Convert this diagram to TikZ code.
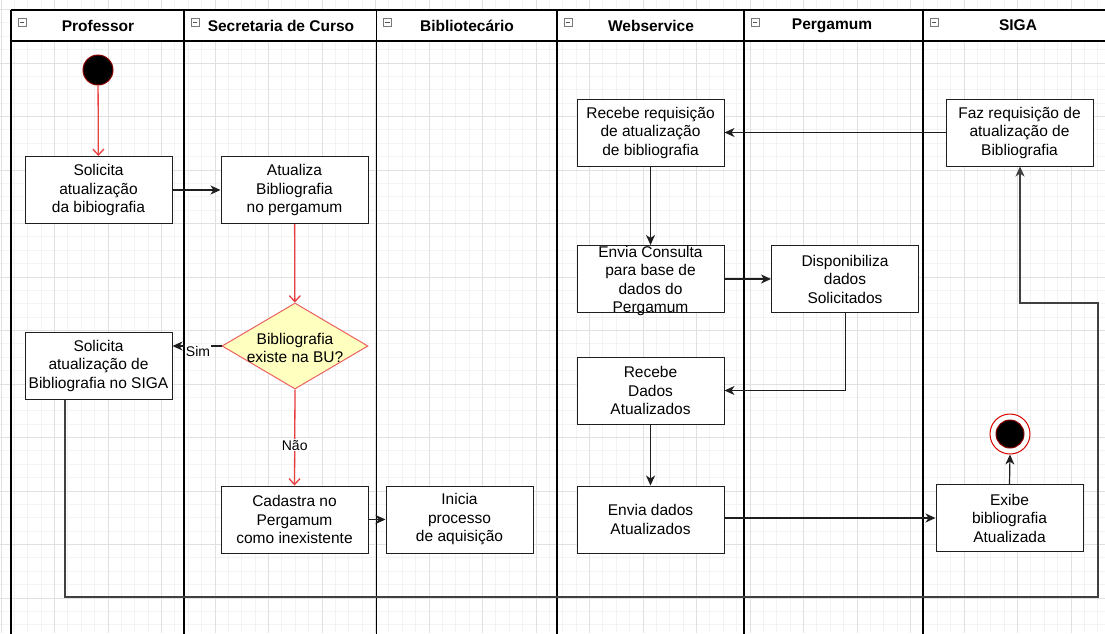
\documentclass[tikz,border=0pt]{standalone}
\usepackage{fontspec}
\setmainfont{Liberation Sans}
\usetikzlibrary{shapes.geometric,arrows.meta}
\definecolor{gridmaj}{RGB}{224,224,224}
\definecolor{gridmin}{RGB}{243,243,243}
\definecolor{redline}{RGB}{234,64,64}
\definecolor{decborder}{RGB}{234,96,96}
\definecolor{decfill}{RGB}{255,255,192}
\definecolor{darkred}{RGB}{140,0,0}
\definecolor{conn}{RGB}{30,30,30}
\definecolor{icongray}{RGB}{120,120,120}
\begin{document}
\begin{tikzpicture}[x=1pt,y=-1pt,
  txt/.style={font=\fontsize{15.5}{18.5}\selectfont, align=center, inner sep=0pt},
  act/.style={txt, draw=conn, line width=1pt, fill=white, minimum width=147pt, minimum height=67pt},
  hdr/.style={font=\fontsize{15.5}{18.5}\selectfont\bfseries, inner sep=0pt},
  lbl/.style={font=\fontsize{14}{16}\selectfont, fill=white, inner sep=1pt},
  dec/.style={diamond, draw=decborder, fill=decfill, line width=1pt, minimum width=146pt, minimum height=86pt, aspect=1.7, inner sep=0pt},
  lane/.style={draw=black, line width=1.1pt},
  blk/.style={draw=conn, line width=1.2pt, -{Stealth[length=10pt,width=9pt,inset=3pt]}},
  redarr/.style={draw=redline, line width=1.3pt, -{Straight Barb[length=6pt,width=11pt]}},
  loopline/.style={draw=conn!85!white, line width=1.4pt, -{Stealth[length=10pt,width=9pt,inset=3pt]}}
]
\useasboundingbox (0,0) rectangle (1105,633);
% grid
\begin{scope}
\clip (0,0) rectangle (1105,633);
\foreach \i in {0,...,83} {\draw[gridmin, line width=1pt] ({1+13.375*\i},0) -- ++(0,633);}
\foreach \i in {0,...,48} {\draw[gridmin, line width=1pt] (0,{-3.875+13.375*\i}) -- ++(1105,0);}
\foreach \i in {0,...,20} {\draw[gridmaj, line width=1pt] ({1+53.5*\i},0) -- ++(0,633);}
\foreach \i in {0,...,12} {\draw[gridmaj, line width=1pt] (0,{-44+53.5*\i}) -- ++(1105,0);}
% header
\fill[white] (11,10) rectangle (1113,41);
\draw[lane] (11,10) -- (1113,10);
\draw[lane] (11,41) -- (1113,41);
\foreach \x in {11,184,376.5,557,923} {\draw[lane] (\x,10) -- (\x,640);}
\draw[draw=black, line width=2.4pt] (744,10) -- (744,640);
\foreach \x in {11,184,376.5,557,744,923} {
  \draw[icongray, fill=white, line width=0.8pt] ({\x+7},18) rectangle ({\x+15},26);
  \draw[icongray!70!black, line width=1pt] ({\x+8.8},22) -- ({\x+13.2},22);
}
\end{scope}
\node[hdr] (hP) at (98,25.5) {Professor};
\node[hdr] (hS) at (281,25.5) {Secretaria de Curso};
\node[hdr] (hB) at (467,25.5) {Bibliotecário};
\node[hdr] (hW) at (651,25.5) {Webservice};
\node[hdr] (hG) at (832,25.5) {Pergamum};
\node[hdr] (hI) at (1018,25.5) {SIGA};
% nodes
\node[circle, fill=black, draw=darkred, line width=1pt, minimum size=30pt, inner sep=0pt] (start) at (98,70) {};
\node[act] (solA) at (98.5,190) {Solicita\\atualização\\da bibiografia};
\node[act] (atua) at (294.5,190) {Atualiza\\Bibliografia\\no pergamum};
\node[dec] (dec) at (295,346) {};
\node[txt] (dect) at (295,348) {Bibliografia\\existe na BU?};
\node[act] (solS) at (98.5,365.5) {Solicita\\atualização de\\Bibliografia no SIGA};
\node[act] (cad) at (294.5,519.5) {Cadastra no\\Pergamum\\como inexistente};
\node[act] (ini) at (459.5,519.5) {Inicia\\processo\\de aquisição};
\node[act] (rec1) at (650.5,132.5) {Recebe requisição\\de atualização\\de bibliografia};
\node[act] (env1) at (650.5,279) {};
\node[txt] (env1t) at (650.5,281) {Envia Consulta\\para base de\\dados do\\Pergamum};
\node[act] (disp) at (845,279) {Disponibiliza\\dados\\Solicitados};
\node[act] (rec2) at (650.5,390.5) {Recebe\\Dados\\Atualizados};
\node[act] (env2) at (650.5,519.5) {Envia dados\\Atualizados};
\node[act] (faz) at (1019.5,132.5) {Faz requisição de\\atualização de\\Bibliografia};
\node[act] (exi) at (1009.5,518) {Exibe\\bibliografia\\Atualizada};
\node[circle, fill=white, draw=red!85!black, line width=1pt, minimum size=40pt, inner sep=0pt] (endc) at (1010,434) {};
\node[circle, fill=black, draw=darkred, line width=1pt, minimum size=28pt, inner sep=0pt] (endi) at (1010,434) {};
% connectors
\draw[redarr] (start) -- (solA);
\draw[blk] (solA) -- (atua);
\draw[redarr] (atua) -- (dec);
\draw[blk] (dec.west) -- node[lbl, pos=0.48, yshift=-5pt] {Sim} (dec.west -| solS.east);
\draw[redarr] (dec.south) -- node[lbl, pos=0.58] {Não} (cad.north);
\draw[blk] (cad) -- (ini);
\coordinate (p1) at (65,597);
\coordinate (p2) at (1098,597);
\coordinate (p3) at (1098,303);
\coordinate (p4) at (1020,303);
\draw[loopline] ([xshift=-33.5pt]solS.south) -- (p1) -- (p2) -- (p3) -- (p4) -- (p4 |- faz.south);
\draw[blk] (faz) -- (rec1);
\draw[blk] (rec1) -- (env1);
\draw[blk] (env1) -- (disp);
\coordinate (q1) at (845.5,390.5);
\draw[blk] (disp.south -| q1) -- (q1) -- (rec2.east);
\draw[blk] (rec2) -- (env2);
\draw[blk] (env2.east |- exi.west) -- (exi.west);
\draw[blk] (exi.north) -- (endc.south);
\end{tikzpicture}
\end{document}
